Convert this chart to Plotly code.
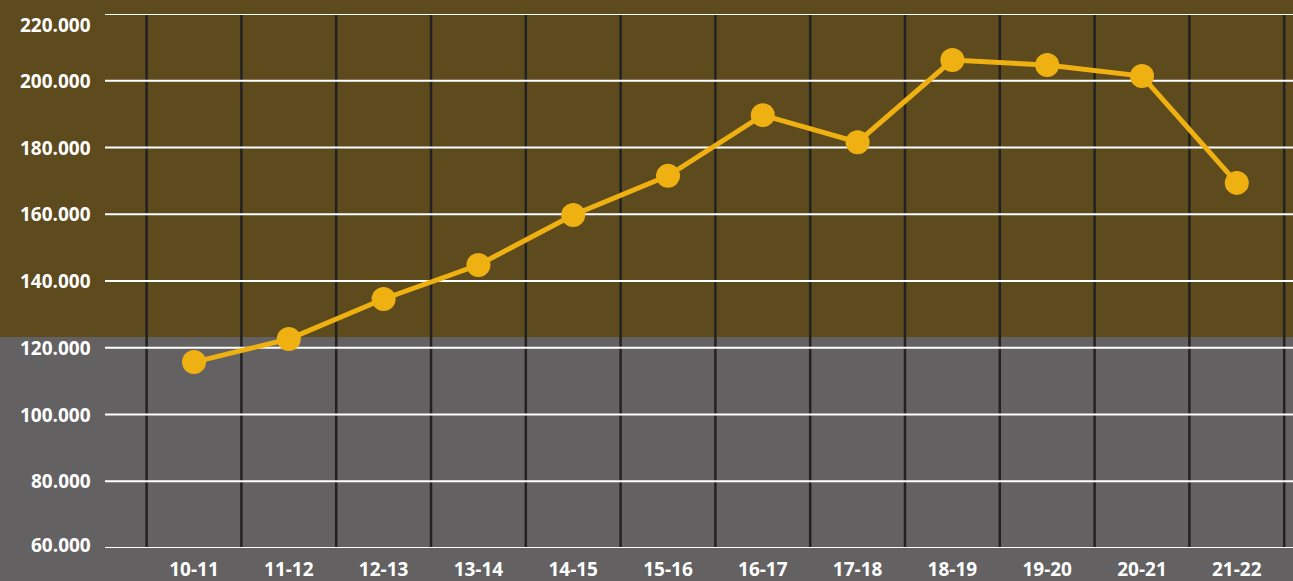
import plotly.graph_objects as go

seasons = ['10-11', '11-12', '12-13', '13-14', '14-15', '15-16',
           '16-17', '17-18', '18-19', '19-20', '20-21', '21-22']
values = [115700, 122600, 134600, 144800, 159800, 171500,
          189700, 181600, 206200, 204700, 201400, 169400]
y_ticks = [60000, 80000, 100000, 120000, 140000, 160000, 180000, 200000, 220000]

brown = '#5d4a1d'
grey = '#636162'
gold = '#eeb111'

fig = go.Figure(go.Scatter(
    x=list(range(len(seasons))), y=values, mode='lines+markers',
    line=dict(color=gold, width=5),
    marker=dict(color=gold, size=24),
    hoverinfo='skip', cliponaxis=False))

# two-tone page background
split = (548 - 337) / 534
fig.add_shape(type='rect', xref='paper', yref='paper', x0=-0.2, x1=1.1,
              y0=split, y1=1.2, fillcolor=brown, line_width=0, layer='below')

# vertical separators between seasons
for i in range(len(seasons) + 1):
    fig.add_shape(type='line', xref='x', yref='paper', x0=i - 0.5, x1=i - 0.5,
                  y0=0, y1=1, line=dict(color='#222222', width=2.5), layer='below')
# horizontal grid + labels (edge labels nudged inward like the original)
for v in y_ticks:
    fig.add_shape(type='line', xref='paper', yref='y', x0=0, x1=1,
                  y0=v, y1=v, line=dict(color='white', width=2), layer='below')
    shift = -11 if v == y_ticks[-1] else (3 if v == y_ticks[0] else 0)
    fig.add_annotation(xref='paper', yref='y', x=0, y=v, xanchor='right',
                       xshift=-12, yshift=shift, showarrow=False,
                       text=f"{v:,}".replace(',', '.'))

fig.update_layout(
    width=1293, height=581,
    margin=dict(l=105, r=0, t=14, b=33, autoexpand=False),
    paper_bgcolor=grey, plot_bgcolor='rgba(0,0,0,0)',
    showlegend=False,
    font=dict(family='Open Sans', size=19, color='white', weight=700),
)
fig.update_xaxes(
    range=[-0.939, 11.593], automargin=False,
    tickvals=list(range(len(seasons))), ticktext=seasons,
    showgrid=False, zeroline=False, ticks='', ticklabelstandoff=8,
)
fig.update_yaxes(
    range=[60000, 220000], automargin=False, showticklabels=False,
    showgrid=False, zeroline=False, ticks='',
)

fig.write_html('out.html', config={'displayModeBar': False},
               post_script="document.body.style.margin='0';")
